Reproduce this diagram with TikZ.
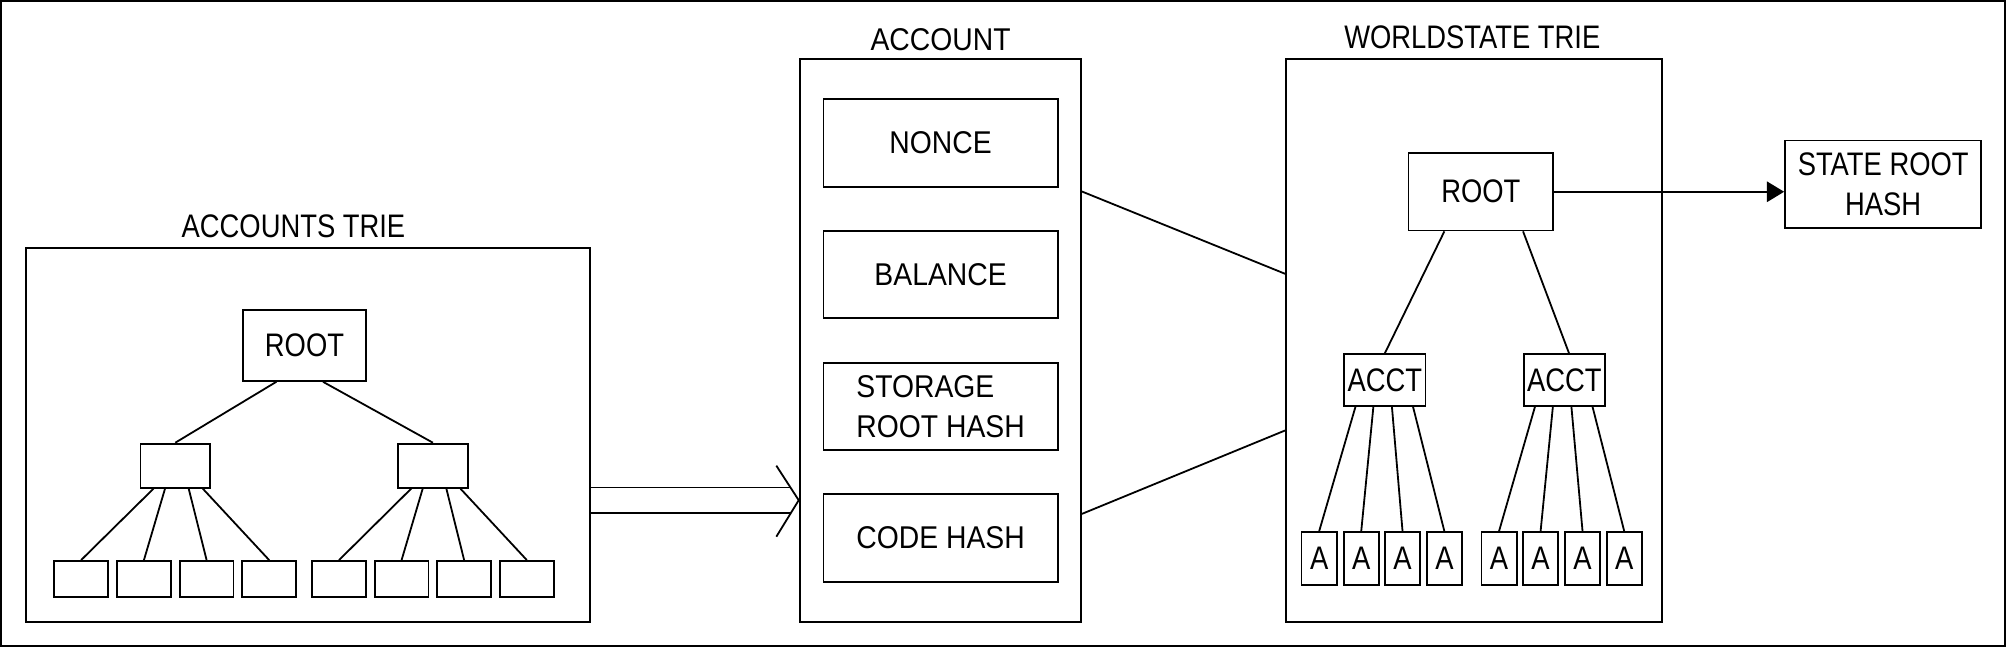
\documentclass[tikz,border=0pt]{standalone}
\usepackage{fontspec}
\setmainfont{Liberation Sans}
\newfontfamily\triefont[FakeStretch=0.84]{Liberation Sans}
\newfontfamily\fieldfont[FakeStretch=0.9]{Liberation Sans}
\usetikzlibrary{calc,arrows.meta}

\begin{document}
\begin{tikzpicture}[x=0.02cm,y=-0.02cm,line width=0.8pt,
    box/.style={draw,inner sep=0pt,align=center,font=\triefont\fontsize{14.5}{17.8}\selectfont},
    leaf/.style={box,minimum width=0.84cm,minimum height=0.56cm},
    abox/.style={box,minimum width=0.55cm,minimum height=0.82cm},
    field/.style={draw,inner sep=0pt,align=left,minimum width=3.66cm,minimum height=1.37cm,font=\fieldfont\fontsize{14}{17.8}\selectfont},
    title/.style={inner sep=0pt,font=\triefont\fontsize{14.5}{17.8}\selectfont}]
            \useasboundingbox (0,0) rectangle (1568,506);
            \draw[line width=1pt] (0.9,0.9) rectangle (1567.1,505.1);
            % accounts trie
            \node[box,minimum width=8.82cm,minimum height=5.85cm] (tr) at (240.5,339.8) {};
            \node[title] (trt) at (229.4,176.9) {ACCOUNTS TRIE};
            \node[box,minimum width=1.92cm,minimum height=1.11cm] (r) at (238,270) {ROOT};
            \node[box,minimum width=1.09cm,minimum height=0.69cm] (m1) at (137,364) {};
            \node[box,minimum width=1.09cm,minimum height=0.69cm] (m2) at (338.4,364) {};
            \node[leaf] (l1) at (63.4,452.5) {};
            \node[leaf] (l2) at (112.5,452.5) {};
            \node[leaf] (l3) at (161.5,452.5) {};
            \node[leaf] (l4) at (210.4,452.5) {};
            \node[leaf] (l5) at (265,452.5) {};
            \node[leaf] (l6) at (313.9,452.5) {};
            \node[leaf] (l7) at (362.8,452.5) {};
            \node[leaf] (l8) at (411.8,452.5) {};
            \draw ($(r.south)+(-22,0)$) edge (m1.north);
            \draw ($(r.south)+(14.5,0)$) edge (m2.north);
            \draw ($(m1.south)+(-17,0)$) edge (l1.north);
            \draw ($(m1.south)+(-8,0)$) edge (l2.north);
            \draw ($(m1.south)+(10.5,0)$) edge (l3.north);
            \draw ($(m1.south)+(21.5,0)$) edge (l4.north);
            \draw ($(m2.south)+(-17,0)$) edge (l5.north);
            \draw ($(m2.south)+(-8,0)$) edge (l6.north);
            \draw ($(m2.south)+(10.5,0)$) edge (l7.north);
            \draw ($(m2.south)+(21.5,0)$) edge (l8.north);
            % account
            \node[box,minimum width=4.4cm,minimum height=8.8cm] (acc) at (735,266.2) {};
            \node[title,font=\fieldfont\fontsize{14}{17.8}\selectfont] (acct) at (735.2,30.7) {ACCOUNT};
            \node[field] (n) at (735.2,111.9) {NONCE};
            \node[field] (b) at (735.2,214.6) {BALANCE};
            \node[field] (st) at (735.2,317.7) {STORAGE\\ROOT HASH};
            \node[field] (ch) at (735.2,420.4) {CODE HASH};
            \coordinate (tip) at (acc.west |- 0,391);
            \draw ($(tip)+(-17.5,-27)$) -- (tip) -- ($(tip)+(-17.5,28.5)$);
            \draw (tr.east |- 0,381) -- ($(tip)+(-6.5,-10)$);
            \draw (tr.east |- 0,401.3) -- ($(tip)+(-6.3,10.3)$);
            % worldstate trie
            \node[box,minimum width=5.87cm,minimum height=8.8cm] (ws) at (1152.2,266.2) {};
            \node[title] (wst) at (1150.8,29.4) {WORLDSTATE TRIE};
            \node[box,minimum width=2.26cm,minimum height=1.21cm] (wr) at (1157.5,149.9) {ROOT};
            \node[box,minimum width=1.27cm,minimum height=0.81cm] (c1) at (1082.5,297) {ACCT};
            \node[box,minimum width=1.27cm,minimum height=0.81cm] (c2) at (1222.8,297) {ACCT};
            \node[abox] (a1) at (1031.1,436.5) {A};
            \node[abox] (a2) at (1064,436.5) {A};
            \node[abox] (a3) at (1096.3,436.5) {A};
            \node[abox] (a4) at (1129,436.5) {A};
            \node[abox] (a5) at (1171.7,436.5) {A};
            \node[abox] (a6) at (1204.2,436.5) {A};
            \node[abox] (a7) at (1237,436.5) {A};
            \node[abox] (a8) at (1269.6,436.5) {A};
            \node[box,minimum width=3.07cm,minimum height=1.37cm] (h) at (1472,144) {STATE ROOT\\HASH};
            \draw ($(wr.south)+(-28.5,0)$) edge (c1.north);
            \draw ($(wr.south)+(33,0)$) edge ($(c2.north)+(3.6,0)$);
            \draw ($(c1.south)+(-23,0)$) edge (a1.north);
            \draw ($(c1.south)+(-9,0)$) edge (a2.north);
            \draw ($(c1.south)+(5.5,0)$) edge (a3.north);
            \draw ($(c1.south)+(22,0)$) edge (a4.north);
            \draw ($(c2.south)+(-23,0)$) edge (a5.north);
            \draw ($(c2.south)+(-9,0)$) edge (a6.north);
            \draw ($(c2.south)+(5.5,0)$) edge (a7.north);
            \draw ($(c2.south)+(22,0)$) edge (a8.north);
            \draw[-{Triangle[length=0.27cm,width=0.32cm]}] (wr.east) -- (wr.east -| h.west);
            % account to worldstate
            \draw ($(acc.north east)!0.236!(acc.south east)$) -- ($(ws.north west)!0.382!(ws.south west)$);
            \draw ($(acc.north east)!0.807!(acc.south east)$) -- ($(ws.north west)!0.659!(ws.south west)$);
        \end{tikzpicture}
\end{document}
